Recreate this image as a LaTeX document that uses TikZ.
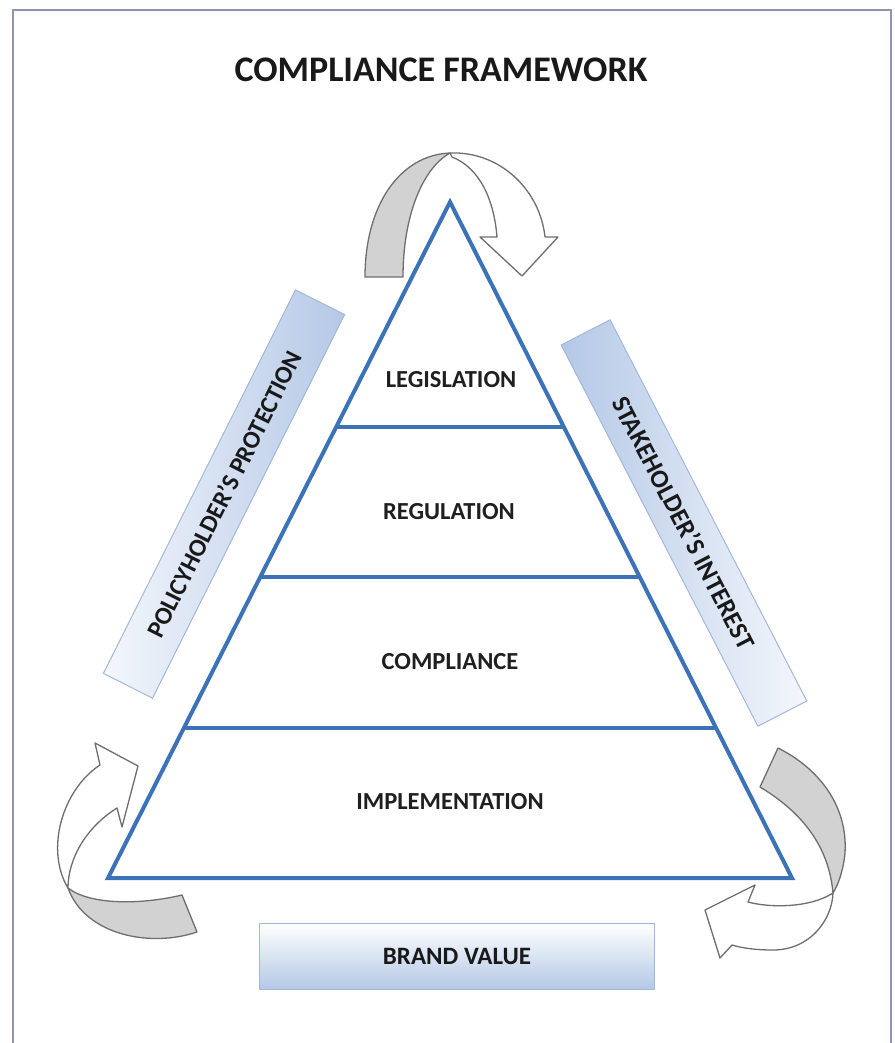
\documentclass[tikz,border=0pt]{standalone}
\usepackage{fontspec}
\setmainfont{Carlito}
\usetikzlibrary{calc}
\definecolor{triblue}{HTML}{3C72B8}
\definecolor{barblue}{HTML}{B4C8E6}
\definecolor{barlight}{HTML}{F4F7FC}
\definecolor{barline}{HTML}{A3B8D8}
\definecolor{arrgray}{HTML}{D2D2D2}
\definecolor{arrline}{HTML}{6E6E6E}
\definecolor{framecol}{HTML}{8C97AE}
\begin{document}
\begin{tikzpicture}[x=1pt,y=-1pt,
  tri/.style={draw=triblue, line width=4pt, line join=miter},
  lvl/.style={font=\bfseries\fontsize{24.5}{24.5}\selectfont, text=black!88},
  sidebar/.style={draw=barline, line width=1pt, minimum width=429pt, minimum height=55pt, inner sep=0pt, text=black!90},
  backpart/.style={fill=arrgray, draw=arrline, line width=1.3pt, line join=round},
  frontpart/.style={fill=white, draw=arrline, line width=1.3pt, line join=round}
]
\useasboundingbox (0,0) rectangle (894,1043);
\draw[framecol, line width=2.5pt] (13,1043) -- (13,10) -- (891,10) -- (891,1043);

\node[font=\bfseries\fontsize{36}{36}\selectfont, text=black!90] (title) at (441,70) {COMPLIANCE FRAMEWORK};

% side bars
\node[sidebar, rotate=63.4, left color=barlight, right color=barblue, font=\bfseries\fontsize{25}{25}\selectfont] (policy) at (224,494) {POLICYHOLDER'S PROTECTION};
\node[sidebar, rotate=-62.7, left color=barblue, right color=barlight, font=\bfseries\fontsize{26}{26}\selectfont] (stake) at (684,523) {STAKEHOLDER'S INTEREST};
\node[draw=barline, line width=1pt, minimum width=395pt, minimum height=66pt, top color=white, bottom color=barblue, font=\bfseries\fontsize{25}{25}\selectfont, text=black!90] (brand) at (457,956) {BRAND VALUE};

% pyramid
\coordinate (apex) at (450,202);
\coordinate (bl) at (108,878);
\coordinate (br) at (792,878);
\draw[tri] (apex) -- (bl) -- (br) -- cycle;
\draw[tri] ($(apex)!0.333!(bl)$) -- ($(apex)!0.333!(br)$);
\draw[tri] ($(apex)!0.555!(bl)$) -- ($(apex)!0.555!(br)$);
\draw[tri] ($(apex)!0.778!(bl)$) -- ($(apex)!0.778!(br)$);

\node[lvl] (legis) at (451,380) {LEGISLATION};
\node[lvl] (regul) at (449,512) {REGULATION};
\node[lvl] (compl) at (450,662) {COMPLIANCE};
\node[lvl] (impl) at (450,802) {IMPLEMENTATION};

% top curved arrow
\path[backpart] (365,277) .. controls (365,205) and (400,155) .. (450,153)
  .. controls (423,168) and (403,215) .. (403,277) -- cycle;
\path[frontpart] (450,153) .. controls (500,151) and (540,190) .. (545,237)
  -- (558,237) -- (522,276) -- (480,237) -- (497,237)
  .. controls (494,200) and (480,168) .. (452,157) -- cycle;

% bottom-left curved arrow
\path[backpart] (68,888) .. controls (90,905) and (140,905) .. (182,895)
  -- (197,932) .. controls (150,948) and (85,935) .. (68,888) -- cycle;
\path[frontpart] (100,765) .. controls (62,790) and (45,850) .. (68,888)
  .. controls (68,860) and (85,828) .. (117,808)
  -- (122,827) -- (138,766) -- (95,743) -- cycle;

% bottom-right curved arrow
\path[backpart] (760,787) -- (778,748) .. controls (818,768) and (848,805) .. (845,853)
  .. controls (843,872) and (838,885) .. (833,893)
  .. controls (830,860) and (815,820) .. (760,787) -- cycle;
\path[frontpart] (833,893) .. controls (832,920) and (810,950) .. (773,950)
  .. controls (755,950) and (742,948) .. (732,945)
  -- (720,958) -- (705,910) -- (755,885) -- (748,902)
  .. controls (770,908) and (810,908) .. (833,893) -- cycle;
\end{tikzpicture}
\end{document}
